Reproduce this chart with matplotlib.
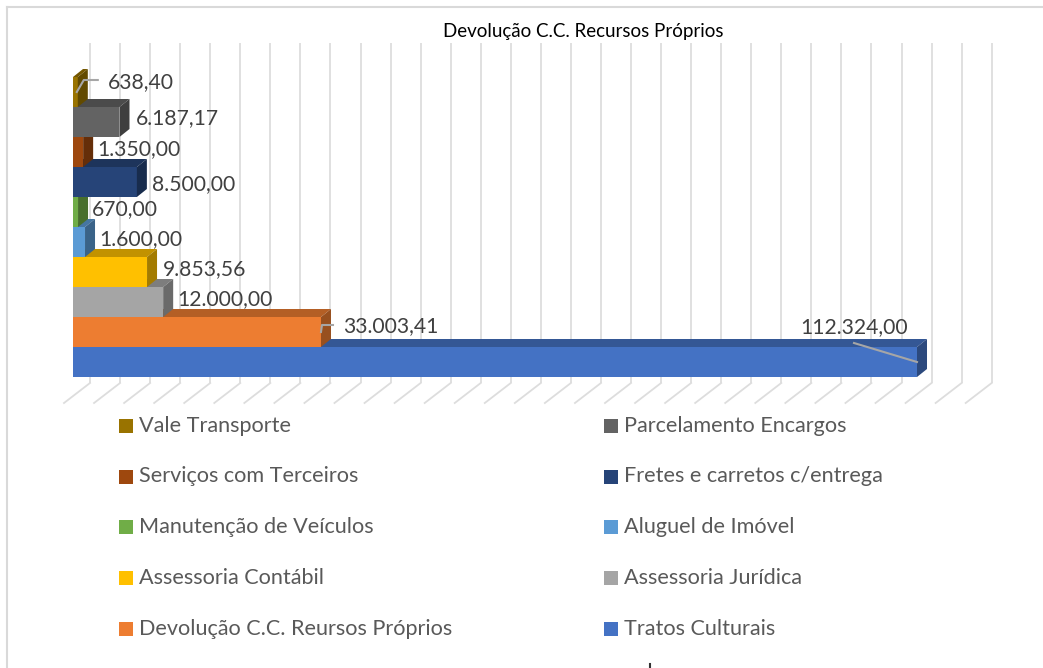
import numpy as np
import matplotlib
matplotlib.use("Agg")
import matplotlib.pyplot as plt
from matplotlib.patches import Polygon, Rectangle
from matplotlib.colors import to_rgb

plt.rcParams['font.family'] = ['Lato', 'DejaVu Sans']

# ---------------- data ----------------
categories = ["Tratos Culturais", "Devolução C.C. Reursos Próprios", "Assessoria Jurídica",
              "Assessoria Contábil", "Aluguel de Imóvel", "Manutenção de Veículos",
              "Fretes e carretos c/entrega", "Serviços com Terceiros",
              "Parcelamento Encargos", "Vale Transporte"]
values = [112324.00, 33003.41, 12000.00, 9853.56, 1600.00, 670.00, 8500.00,
          1350.00, 6187.17, 638.40]
colors = ["#4472C4", "#ED7D31", "#A5A5A5", "#FFC000", "#5B9BD5", "#70AD47",
          "#264478", "#9E480E", "#636363", "#997300"]
title = "Devolução C.C. Recursos Próprios"
x_max = 120000
x_step = 4000

# ---------------- layout ----------------
W, H = 1043, 668
fig = plt.figure(figsize=(W / 100, H / 100), dpi=100)
fig.patch.set_facecolor("white")

x0_px, y_bot_px, row_px = 73, 377, 30
px_per_unit = 0.007514
ax_w_px = x_max * px_per_unit
n = len(categories)
ax = fig.add_axes([x0_px / W, (H - y_bot_px) / H, ax_w_px / W, n * row_px / H])
ax.set_xlim(0, x_max)
ax.set_ylim(-0.5, n - 0.5)
ax.axis("off")

ux = x_max / ax_w_px          # data units per pixel (x)
uy = 1.0 / row_px             # data units per pixel (y)

# 3D offsets (pixels)
bar_dx, bar_dy = 10, 8
wall_dx = 17
wall_top_px = 43
floor_back_px = 383
floor_dx, floor_dy = -26, 20

def ypx(yimg):
    return -0.5 + (y_bot_px - yimg) * uy

grid_col = "#DDDDDD"
for v in np.arange(0, x_max + 1, x_step):
    xb = v + wall_dx * ux
    ax.plot([xb, xb], [ypx(floor_back_px), ypx(wall_top_px)], color=grid_col,
            lw=1.3, clip_on=False, zorder=1, solid_capstyle="butt")
    ax.plot([xb, xb + floor_dx * ux], [ypx(floor_back_px), ypx(floor_back_px + floor_dy)],
            color=grid_col, lw=1.3, clip_on=False, zorder=1)

def shade(c, f):
    r, g, b = to_rgb(c)
    return (r * f, g * f, b * f)

y_pos = np.arange(n)
bars = ax.barh(y_pos, values, height=1.0, color=colors, linewidth=0)
ddx, ddy = bar_dx * ux, bar_dy * uy
for i, (p, v, c) in enumerate(zip(bars, values, colors)):
    z = 10 + 3 * i
    p.set_zorder(z)
    p.set_clip_on(False)
    top = Polygon([(0, i + 0.5), (v, i + 0.5), (v + ddx, i + 0.5 + ddy), (ddx, i + 0.5 + ddy)],
                  closed=True, facecolor=shade(c, 0.76), edgecolor="none", zorder=z + 1,
                  clip_on=False)
    side = Polygon([(v, i - 0.5), (v + ddx, i - 0.5 + ddy), (v + ddx, i + 0.5 + ddy), (v, i + 0.5)],
                   closed=True, facecolor=shade(c, 0.64), edgecolor="none", zorder=z + 2,
                   clip_on=False)
    ax.add_patch(top)
    ax.add_patch(side)

# ---------------- overlay in image pixel coordinates ----------------
ov = fig.add_axes([0, 0, 1, 1], facecolor="none")
ov.set_xlim(0, W)
ov.set_ylim(H, 0)
ov.axis("off")

def to_img(x, y):
    px, py = ax.transData.transform((x, y))
    return px, H - py

def fmt_br(v):
    s = f"{v:,.2f}"
    return s.replace(",", "X").replace(".", ",").replace("X", ".")

# label offsets (pixels from front end of bar, image y down)
label_off = {0: (-117, -35), 1: (22, -6), 2: (14, -3), 3: (16, -3), 4: (14, -3),
             5: (14, -3), 6: (15, 2), 7: (14, -3), 8: (16.5, -4), 9: (30, -10)}
leaders = {9: [(-1, 0), (6, -12), (20, -12)],
           1: [(0, 0), (1, -7), (12, -7)],
           0: [(-63, -19), (0, 0)]}
for i, v in enumerate(values):
    xe, yc = to_img(v, i)
    ox, oy = label_off[i]
    ov.text(xe + ox, yc + oy, fmt_br(v), fontsize=15.2, color="#404040",
            ha="left", va="center", zorder=50)
    if i in leaders:
        pts = leaders[i]
        ov.plot([xe + a for a, b in pts], [yc + b for a, b in pts],
                color="#A6A6A6", lw=1.5, zorder=49)

# title
ov.text(583, 31, title, fontsize=13.5, color="black", ha="center", va="center")

# legend (two columns)
row_y = [426, 476.5, 527, 578, 629]
col_x = [119, 604]
order = list(range(n - 1, -1, -1))
for k, idx in enumerate(order):
    r, cidx = k // 2, k % 2
    x = col_x[cidx]
    y = row_y[r]
    ov.add_patch(Rectangle((x, y - 7), 14, 14, facecolor=colors[idx], edgecolor="none"))
    ov.text(x + 20, y, categories[idx], fontsize=15.6, color="#595959", ha="left", va="center")

# chart border
ov.plot([7, W + 5], [7, 7], color="#D9D9D9", lw=1.5)
ov.plot([7, 7], [7, H + 5], color="#D9D9D9", lw=1.5)
ov.plot([650, 650], [664, H + 2], color="#333333", lw=1.5)

fig.savefig("out.png", dpi=100)
